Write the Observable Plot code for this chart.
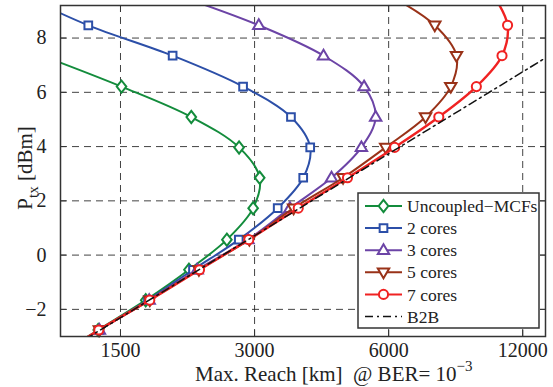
<!DOCTYPE html>
<html><head><meta charset="utf-8">
<script src="https://cdn.jsdelivr.net/npm/d3@7"></script>
<script src="https://cdn.jsdelivr.net/npm/@observablehq/plot@0.6"></script>
<style>body{margin:0;background:#fff}#chart{width:553px;height:387px}</style>
</head><body><div id="chart"></div>
<script>
// ---- data ----
const seriesNames = ["Uncoupled\u2212MCFs", "2 cores", "3 cores", "5 cores", "7 cores"];
const seriesColors = ["#138c3c", "#2c4fa8", "#6c44a6", "#993218", "#f02222"];
const seriesSymbols = ["diamond", "square", "triangleUp", "triangleDown", "circle"];
const pTx = [-3.87, -2.76, -1.66, -0.54, 0.57, 1.73, 2.85, 3.97, 5.09, 6.21, 7.35, 8.47, 9.59];
const reachUncoupled = [1045, 1337, 1709, 2137, 2600, 2978, 3081, 2769, 2163, 1508, 1000];
const reach2 = [1050, 1345, 1729, 2182, 2765, 3381, 3858, 4000, 3621, 2827, 1964, 1270, 900];
const reach3 = [1050, 1345, 1740, 2230, 2900, 3602, 4466, 5212, 5611, 5284, 4285, 3066, 2000];
const reach5 = [1050, 1345, 1745, 2250, 2920, 3671, 4741, 5909, 7261, 8272, 8520, 7617, 6000];
const reach7 = [1050, 1341, 1745, 2257, 2912, 3760, 4850, 6189, 7776, 9443, 10782, 11096, 10300];
const b2bReach = [1250, 13600];
const b2bPtx = [-3.1, 7.3];
const xTicks = [1500, 3000, 6000, 12000];
const yTicks = [-2, 0, 2, 4, 6, 8];
const xDomain = [1100, 13500];
const yDomain = [-3, 9.2];

// ---- marker shapes ----
const rOf = s => Math.sqrt(s / Math.PI);
const symbolDefs = {
  diamond: {draw(c, s){const r=rOf(s), w=0.8*r, h=1.02*r; c.moveTo(0,-h); c.lineTo(w,0); c.lineTo(0,h); c.lineTo(-w,0); c.closePath();}},
  square: {draw(c, s){const r=rOf(s)*0.64; c.moveTo(-r,-r); c.lineTo(r,-r); c.lineTo(r,r); c.lineTo(-r,r); c.closePath();}},
  triangleUp: {draw(c, s){const r=rOf(s); c.moveTo(0,-1.0*r); c.lineTo(0.95*r,0.62*r); c.lineTo(-0.95*r,0.62*r); c.closePath();}},
  triangleDown: {draw(c, s){const r=rOf(s); c.moveTo(0,1.0*r); c.lineTo(0.95*r,-0.62*r); c.lineTo(-0.95*r,-0.62*r); c.closePath();}},
  circle: {draw(c, s){const r=rOf(s)*0.76; c.moveTo(r,0); c.arc(0,0,r,0,2*Math.PI); c.closePath();}}
};

const reaches = [reachUncoupled, reach2, reach3, reach5, reach7];
const series = reaches.map((arr, i) => arr.map((x, j) => ({x, y: pTx[j]})));
const inside = d => d.x >= xDomain[0] && d.x <= xDomain[1] && d.y >= yDomain[0] && d.y <= yDomain[1];
const b2b = b2bReach.map((x, i) => ({x, y: b2bPtx[i]}));

const gridStyle = {stroke: "#222", strokeOpacity: 0.85, strokeWidth: 1, strokeDasharray: "7,5"};
const fmtY = d => d < 0 ? "\u2212" + (-d) : String(d);
const ft = "'Liberation Serif', 'Times New Roman', Times, serif";

const marks = [
  Plot.gridX(xTicks, gridStyle),
  Plot.gridY(yTicks, gridStyle)
];
series.forEach((data, i) => {
  marks.push(Plot.line(data, {x: "x", y: "y", curve: "catmull-rom", stroke: seriesColors[i], strokeWidth: i === 4 ? 2.4 : 2, clip: true}));
  marks.push(Plot.dot(data.filter(inside), {x: "x", y: "y", r: 6, symbol: symbolDefs[seriesSymbols[i]], stroke: seriesColors[i], fill: "white", strokeWidth: 2}));
});
marks.push(Plot.line(b2b, {x: "x", y: "y", stroke: "#111", strokeWidth: 1.5, strokeDasharray: "8,4,2,4", clip: true}));
marks.push(Plot.frame({stroke: "#333", strokeWidth: 1.5}));
for (const a of ["bottom", "top"]) marks.push(Plot.axisX(xTicks, {anchor: a, tickSize: -6, tickFormat: () => "", label: null, stroke: "#333"}));
for (const a of ["left", "right"]) marks.push(Plot.axisY(yTicks, {anchor: a, tickSize: -6, tickFormat: () => "", label: null, stroke: "#333"}));
marks.push(Plot.axisX(xTicks, {anchor: "bottom", tickSize: 0, tickPadding: 6, tickFormat: d => String(d), label: null, fontSize: 20, fontFamily: ft}));
marks.push(Plot.axisY(yTicks, {anchor: "left", tickSize: 0, tickPadding: 14, tickFormat: fmtY, label: null, fontSize: 20, fontFamily: ft}));

const plot = Plot.plot({
  width: 553, height: 387,
  marginLeft: 60, marginRight: 8, marginTop: 5, marginBottom: 51,
  style: {fontFamily: ft, fontSize: "20px", background: "white", color: "#222"},
  x: {type: "log", domain: xDomain},
  y: {domain: yDomain},
  marks
});
document.getElementById("chart").appendChild(plot);

// ---- axis titles ----
const svg = d3.select(plot);
const xl = svg.append("text").attr("x", 195).attr("y", 381).attr("text-anchor", "start").attr("font-family", ft).attr("font-size", 21).attr("fill", "#222");
xl.append("tspan").text("Max. Reach [km]\u00A0\u00A0@ BER= 10");
xl.append("tspan").attr("dy", -10).attr("font-size", 15).text("\u22123");
const yl = svg.append("text").attr("transform", "translate(32,168) rotate(-90)").attr("text-anchor", "middle").attr("font-family", ft).attr("font-size", 21).attr("fill", "#222");
yl.append("tspan").text("P");
yl.append("tspan").attr("dy", 6).attr("font-size", 15).text("tx");
yl.append("tspan").attr("dy", -6).text("\u00A0[dBm]");

// ---- legend ----
const lg = svg.append("g");
lg.append("rect").attr("x", 358).attr("y", 193).attr("width", 181).attr("height", 135).attr("fill", "white").attr("stroke", "#333").attr("stroke-width", 1.5);
const legendNames = [...seriesNames, "B2B"];
legendNames.forEach((name, i) => {
  const y = 206 + i * 22.1;
  const g = lg.append("g");
  if (i < 5) {
    g.append("line").attr("x1", 365).attr("x2", 402).attr("y1", y).attr("y2", y).attr("stroke", seriesColors[i]).attr("stroke-width", 2);
    g.append("path").attr("transform", `translate(383.5,${y})`).attr("d", d3.symbol(symbolDefs[seriesSymbols[i]], Math.PI * 36)()).attr("fill", "white").attr("stroke", seriesColors[i]).attr("stroke-width", 2);
  } else {
    g.append("line").attr("x1", 365).attr("x2", 402).attr("y1", y).attr("y2", y).attr("stroke", "#111").attr("stroke-width", 1.5).attr("stroke-dasharray", "8,4,2,4");
  }
  g.append("text").attr("x", 407).attr("y", y).attr("dy", "0.35em").attr("text-anchor", "start").attr("font-family", ft).attr("font-size", 17.5).attr("fill", "#222").text(name);
});
</script></body></html>
